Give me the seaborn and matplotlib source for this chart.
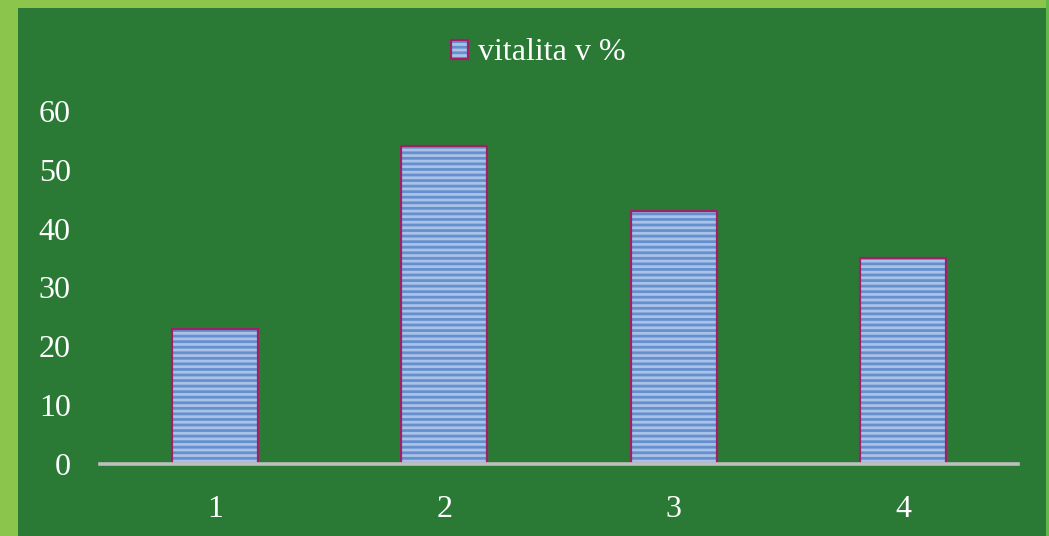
import matplotlib
matplotlib.use("Agg")
import seaborn as sns
from matplotlib import pyplot as plt
from matplotlib.patches import Rectangle, Patch
from matplotlib.legend_handler import HandlerTuple

categories = ['1', '2', '3', '4']
values = [23, 54, 43, 35]
series_name = 'vitalita v %'
y_ticks = [0, 10, 20, 30, 40, 50, 60]

dark_green = '#2a7a36'
light_green = '#8bc54b'
bar_face = '#a9c2e8'
stripe = '#6690cd'
bar_edge = '#a02068'

sns.set_theme(style="white")
plt.rcParams['font.family'] = ['Liberation Serif', 'DejaVu Serif']
plt.rcParams['hatch.linewidth'] = 2.0

fig = plt.figure(figsize=(10.49, 5.36), dpi=100, facecolor=dark_green)
# light green frame on left / top / right
fig.add_artist(Rectangle((0, 0), 18 / 1049, 1, transform=fig.transFigure, color=light_green, lw=0))
fig.add_artist(Rectangle((0, 1 - 8 / 536), 1, 8 / 536, transform=fig.transFigure, color=light_green, lw=0))
fig.add_artist(Rectangle((1 - 3 / 1049, 0), 3 / 1049, 1, transform=fig.transFigure, color='#62b848', lw=0))

ax = fig.add_axes([100 / 1049, 72 / 536, 918 / 1049, 353 / 536])
ax.set_facecolor(dark_green)

# striped fill
sns.barplot(x=categories, y=values, ax=ax, width=0.375, color=bar_face, saturation=1,
            edgecolor=stripe, linewidth=0, hatch='---', errorbar=None)
# outline
sns.barplot(x=categories, y=values, ax=ax, width=0.375, fill=False, saturation=1,
            edgecolor=bar_edge, linewidth=1.6, errorbar=None)

ax.set_xlim(-0.5, 3.5)
ax.set_ylim(0, 60)
ax.set_yticks(y_ticks)
ax.set(xlabel='', ylabel='')
for s in ['left', 'right', 'top']:
    ax.spines[s].set_visible(False)
ax.spines['bottom'].set_color('#bfbfbf')
ax.spines['bottom'].set_linewidth(2.6)
ax.tick_params(axis='both', length=0, labelsize=23, colors='white')
ax.tick_params(axis='y', pad=21)
ax.tick_params(axis='x', pad=22)

h_fill = Patch(facecolor=bar_face, edgecolor=stripe, hatch='---', linewidth=0)
h_edge = Patch(facecolor='none', edgecolor=bar_edge, linewidth=1.6)
leg = fig.legend(handles=[(h_fill, h_edge)], labels=[series_name], loc='center',
                 bbox_to_anchor=(538 / 1049, 1 - 53 / 536), frameon=False,
                 handler_map={tuple: HandlerTuple(ndivide=1, pad=0)},
                 fontsize=23, handlelength=0.55, handleheight=0.55, handletextpad=0.3)
for t in leg.get_texts():
    t.set_color('white')

fig.savefig('out.png', dpi=100, facecolor=fig.get_facecolor())
